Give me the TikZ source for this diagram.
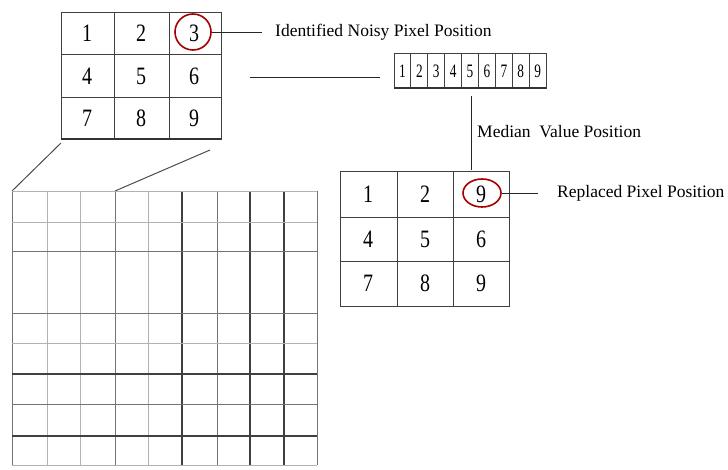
\documentclass[tikz,border=0pt]{standalone}
\usepackage{fontspec}
\setmainfont{Liberation Serif}
\usetikzlibrary{shapes.geometric}
\begin{document}
\begin{tikzpicture}[x=1pt,y=-1pt,
  cellnum/.style={inner sep=0pt,font=\fontsize{25}{25}\selectfont},
  tinynum/.style={inner sep=0pt,font=\fontsize{19}{19}\selectfont},
  caption/.style={inner sep=0pt,anchor=west,font=\fontsize{17.5}{17.5}\selectfont},
  boxline/.style={draw=black!75,line width=0.9pt},
  conn/.style={draw=black!85,line width=0.9pt},
  redring/.style={draw=red!65!black,line width=1.6pt},
  lite/.style={draw=black!30,line width=0.9pt},
  mid/.style={draw=black!55,line width=1pt},
  dark/.style={draw=black!75,line width=1.1pt},
  heavy/.style={draw=black!75,line width=1.8pt}]
\useasboundingbox (0,0) rectangle (728,470);

% 3x3 window with the noisy pixel
\draw[boxline] (61,12) rectangle (221,139);
\foreach \x in {114,169} \draw[boxline] (\x,12) -- (\x,139);
\foreach \y in {54,97} \draw[boxline] (61,\y) -- (221,\y);
\draw[draw=black!80,line width=1.4pt] (61,139) -- (221,139);
\foreach \n/\x/\y in {1/87/33,2/141/33,3/194/33,4/87/76,5/141/76,6/194/76,7/87/118,8/141/118,9/194/118}
  \node[cellnum] (a\n) at (\x,\y) {\scalebox{0.8}[1]{\n}};
\node[circle,minimum size=36pt,redring,inner sep=0pt] (noisy) at (193,32) {};
\node[caption] (noisylbl) at (275,32) {Identified Noisy Pixel Position};
\draw[conn] (noisy.east) -- (262,32);

% sorted window values
\draw[boxline] (394,53) rectangle (546,88);
\foreach \i in {1,...,8} \draw[boxline] ({394+\i*16.9},53) -- ({394+\i*16.9},88);
\draw[draw=black!80,line width=1.6pt] (394,88) -- (546,88);
\foreach \n in {1,...,9}
  \node[tinynum] (s\n) at ({394+(\n-0.5)*16.9},71) {\scalebox{0.7}[1]{\n}};
\coordinate (sortin) at (250,77);
\coordinate (sortend) at (380,77);
\draw[conn] (sortin) -- (sortend);

% median position link
\coordinate (medtop) at (471,96);
\coordinate (medbot) at (471,170);
\draw[conn] (medtop) -- (medbot);
\node[caption] (medlbl) at (477,132) {Median\ \ Value Position};

% 3x3 window after replacement
\draw[boxline] (340,171) rectangle (509,306);
\foreach \x in {397,453} \draw[boxline] (\x,171) -- (\x,306);
\foreach \y in {217,261} \draw[boxline] (340,\y) -- (509,\y);
\foreach \n/\v/\x/\y in {1/1/368/194,2/2/425/194,3/9/481/194,4/4/368/239,5/5/425/239,6/6/481/239,7/7/368/283,8/8/425/283,9/9/481/283}
  \node[cellnum] (b\n) at (\x,\y) {\scalebox{0.8}[1]{\v}};
\node[ellipse,minimum width=38pt,minimum height=28pt,redring,inner sep=0pt] (repl) at (482,193) {};
\node[caption] (repllbl) at (557,193) {Replaced Pixel Position};
\draw[conn] (repl.east) -- (538,193);

% zoom lines from the window to the image grid
\coordinate (zl0) at (61,143);
\coordinate (zl1) at (12,191);
\coordinate (zr0) at (210,150);
\coordinate (zr1) at (115,191);
\draw[draw=black!70,line width=1pt] (zl0) -- (zl1);
\draw[draw=black!70,line width=1pt] (zr0) -- (zr1);

% image pixel grid
\foreach \x/\s in {12/mid,47/lite,80/lite,115/mid,148/lite,182/dark,217/mid,250/heavy,284/dark,317/mid}
  \draw[\s] (\x,191) -- (\x,465);
\foreach \y/\s in {191/lite,222/lite,252/mid,313/mid,343/lite,374/dark,404/mid,436/heavy,465/lite}
  \draw[\s] (12,\y) -- (317,\y);
\end{tikzpicture}
\end{document}
